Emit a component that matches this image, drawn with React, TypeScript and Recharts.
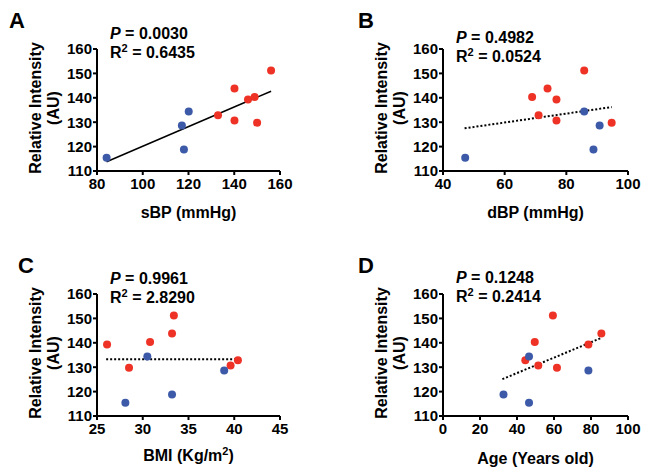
import React from 'react';
import { ScatterChart, Scatter, XAxis, YAxis, ReferenceLine } from 'recharts';

// Relative intensity per subject (same subjects in every panel)
const redIntensity = [132.8, 143.8, 130.7, 139.3, 140.3, 129.8, 151.2];
const blueIntensity = [115.4, 128.6, 118.8, 134.4];

// x values, in the same subject order
const sbpRed = [132.9, 140.1, 140.1, 146.0, 148.9, 150.0, 156.1];
const sbpBlue = [84.2, 117.1, 118.0, 120.1];
const dbpRed = [71.0, 73.9, 76.8, 76.8, 68.9, 94.7, 85.8];
const dbpBlue = [47.2, 90.8, 88.8, 85.8];
const bmiRed = [40.4, 33.2, 39.6, 26.1, 30.8, 28.5, 33.4];
const bmiBlue = [28.1, 38.9, 33.2, 30.5];
const ageRed = [44.5, 85.6, 51.5, 78.6, 49.6, 61.6, 59.4];
const ageBlue = [46.5, 78.6, 32.7, 46.5];

// fitted line end points
const sbpFit = [{ x: 84.2, y: 113.8 }, { x: 156.1, y: 142.7 }];
const dbpFit = [{ x: 47.0, y: 127.5 }, { x: 94.7, y: 136.2 }];
const bmiFit = [{ x: 26.0, y: 133.3 }, { x: 40.4, y: 133.3 }];
const ageFit = [{ x: 32.1, y: 125.1 }, { x: 85.6, y: 142.0 }];

const yTicks = [110, 120, 130, 140, 150, 160];

const RED = '#ee3226';
const BLUE = '#3d5aa9';
const FONT = '"Liberation Sans", Arial, Helvetica, sans-serif';

const zip = (xs: number[], ys: number[]) => xs.map((x, i) => ({ x, y: ys[i] }));

const panels = [
  {
    letter: 'A', letterX: 9, left: 0, top: 0, plotW: 183,
    xDomain: [80, 160], xTicks: [80, 100, 120, 140, 160],
    red: zip(sbpRed, redIntensity), blue: zip(sbpBlue, blueIntensity),
    fit: sbpFit, dotted: false, p: '0.0030', r2: '0.6435', statsTop: 24,
    xLabel: <>sBP (mmHg)</>, xLabelY: 213,
  },
  {
    letter: 'B', letterX: 358, left: 346, top: 0, plotW: 185,
    xDomain: [40, 100], xTicks: [40, 60, 80, 100],
    red: zip(dbpRed, redIntensity), blue: zip(dbpBlue, blueIntensity),
    fit: dbpFit, dotted: true, p: '0.4982', r2: '0.0524', statsTop: 28,
    xLabel: <>dBP (mmHg)</>, xLabelY: 213,
  },
  {
    letter: 'C', letterX: 18, left: 0, top: 245, plotW: 183,
    xDomain: [25, 45], xTicks: [25, 30, 35, 40, 45],
    red: zip(bmiRed, redIntensity), blue: zip(bmiBlue, blueIntensity),
    fit: bmiFit, dotted: true, p: '0.9961', r2: '2.8290', statsTop: 269,
    xLabel: <>BMI (Kg/m<Sup>2</Sup>)</>, xLabelY: 456,
  },
  {
    letter: 'D', letterX: 358, left: 346, top: 245, plotW: 185,
    xDomain: [0, 100], xTicks: [0, 20, 40, 60, 80, 100],
    red: zip(ageRed, redIntensity), blue: zip(ageBlue, blueIntensity),
    fit: ageFit, dotted: true, p: '0.1248', r2: '0.2414', statsTop: 268,
    xLabel: <>Age (Years old)</>, xLabelY: 459,
  },
];

function Sup({ children }: { children: React.ReactNode }) {
  return <span style={{ fontSize: 11, position: 'relative', top: -6 }}>{children}</span>;
}

const PLOT_LEFT = 97;
const PLOT_TOP = 49;
const PLOT_H = 122;

const dot = (color: string) => (props: any) => (
  <circle cx={props.cx} cy={props.cy} r={4} fill={color} />
);

function Panel({ d }: { d: any }) {
  const width = PLOT_LEFT + d.plotW + 14;
  const height = 235;
  const plotCx = d.left + PLOT_LEFT + d.plotW / 2;
  const plotCy = d.top + PLOT_TOP + PLOT_H / 2;
  const tick = { fill: '#000', fontSize: 15, fontWeight: 700, fontFamily: FONT };
  const axisStroke = { stroke: '#000', strokeWidth: 2 };
  return (
    <>
      <div style={{ position: 'absolute', left: d.left, top: d.top }}>
        <ScatterChart
          width={width}
          height={height}
          margin={{ top: PLOT_TOP, right: 14, bottom: height - PLOT_TOP - PLOT_H - 30, left: PLOT_LEFT - 40 }}
        >
          <XAxis
            type="number"
            dataKey="x"
            domain={d.xDomain}
            ticks={d.xTicks}
            interval={0}
            height={30}
            tick={tick}
            tickSize={4}
            tickMargin={3}
            axisLine={axisStroke}
            tickLine={axisStroke}
          />
          <YAxis
            type="number"
            dataKey="y"
            domain={[110, 160]}
            ticks={yTicks}
            interval={0}
            width={40}
            tick={tick}
            tickSize={4}
            tickMargin={1}
            axisLine={axisStroke}
            tickLine={axisStroke}
          />
          <ReferenceLine
            segment={d.fit}
            stroke="#000"
            strokeWidth={d.dotted ? 2 : 1.5}
            strokeDasharray={d.dotted ? '2 2' : undefined}
          />
          <Scatter data={d.red} fill={RED} shape={dot(RED)} isAnimationActive={false} />
          <Scatter data={d.blue} fill={BLUE} shape={dot(BLUE)} isAnimationActive={false} />
        </ScatterChart>
      </div>

      <div style={{ position: 'absolute', left: d.letterX, top: d.top + 10, fontSize: 22, fontWeight: 700, lineHeight: '22px' }}>
        {d.letter}
      </div>

      <div style={{ position: 'absolute', left: d.left + PLOT_LEFT + 13, top: d.statsTop, fontSize: 16, fontWeight: 700, lineHeight: '19px', whiteSpace: 'nowrap' }}>
        <div><i>P</i> = {d.p}</div>
        <div>R<Sup>2</Sup> = {d.r2}</div>
      </div>

      <div
        style={{
          position: 'absolute',
          left: d.left + PLOT_LEFT - 50 - 90,
          top: plotCy - 2 - 20,
          width: 180,
          height: 40,
          transform: 'rotate(-90deg)',
          textAlign: 'center',
          fontSize: 16,
          fontWeight: 700,
          lineHeight: '18px',
          whiteSpace: 'nowrap',
        }}
      >
        <div>Relative Intensity</div>
        <div>(AU)</div>
      </div>

      <div
        style={{
          position: 'absolute',
          left: plotCx - 100,
          top: d.xLabelY - 10,
          width: 200,
          textAlign: 'center',
          fontSize: 16,
          fontWeight: 700,
          lineHeight: '20px',
          whiteSpace: 'nowrap',
        }}
      >
        {d.xLabel}
      </div>
    </>
  );
}

export default function App() {
  return (
    <div style={{ position: 'relative', width: 650, height: 475, margin: -8, background: '#fff', fontFamily: FONT, color: '#000' }}>
      {panels.map((d) => (
        <Panel key={d.letter} d={d} />
      ))}
    </div>
  );
}
